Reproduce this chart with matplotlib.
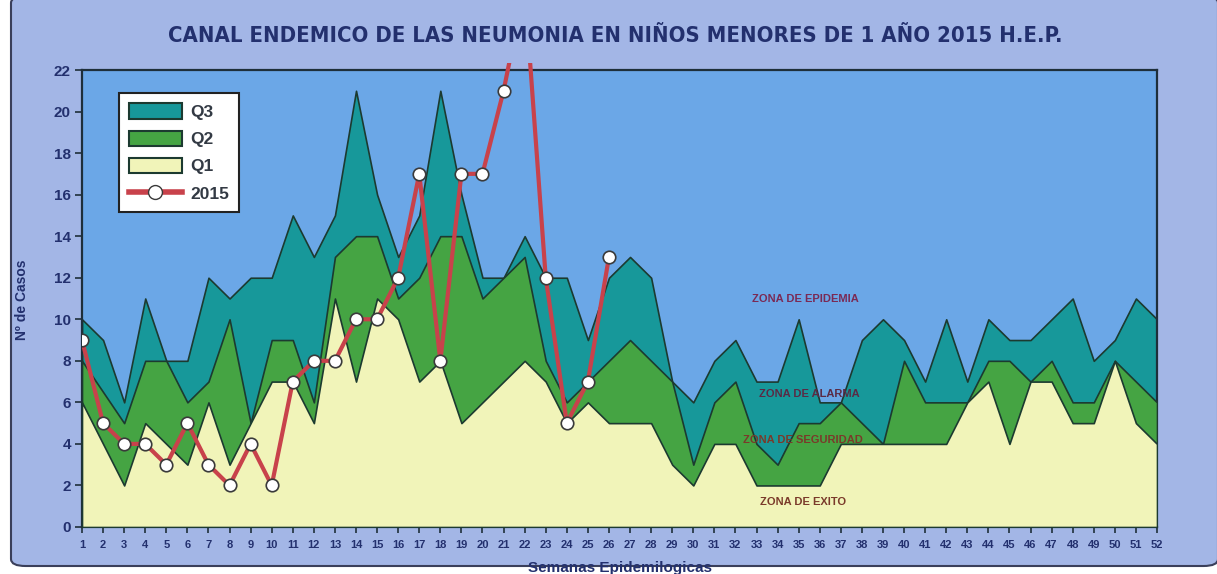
import matplotlib
matplotlib.use("Agg")
import matplotlib.pyplot as plt
from matplotlib.patches import FancyBboxPatch, Rectangle, Patch
from matplotlib.lines import Line2D
from matplotlib import font_manager
import numpy as np

weeks = list(range(1, 53))
q3 = [10, 9, 6, 11, 8, 8, 12, 11, 12, 12, 15, 13, 15, 21, 16, 13, 15, 21, 16, 12,
      12, 14, 12, 12, 9, 12, 13, 12, 7, 6, 8, 9, 7, 7, 10, 6, 6, 9, 10, 9,
      7, 10, 7, 10, 9, 9, 10, 11, 8, 9, 11, 10]
q2 = [8, 6.5, 5, 8, 8, 6, 7, 10, 5, 9, 9, 6, 13, 14, 14, 11, 12, 14, 14, 11,
      12, 13, 8, 6, 7, 8, 9, 8, 7, 3, 6, 7, 4, 3, 5, 5, 6, 5, 4, 8,
      6, 6, 6, 8, 8, 7, 8, 6, 6, 8, 7, 6]
q1 = [6, 4, 2, 5, 4, 3, 6, 3, 5, 7, 7, 5, 11, 7, 11, 10, 7, 8, 5, 6,
      7, 8, 7, 5, 6, 5, 5, 5, 3, 2, 4, 4, 2, 2, 2, 2, 4, 4, 4, 4,
      4, 4, 6, 7, 4, 7, 7, 5, 5, 8, 5, 4]
weeks_2015 = list(range(1, 27))
cases_2015 = [9, 5, 4, 4, 3, 5, 3, 2, 4, 2, 7, 8, 8, 10, 10, 12, 17, 8, 17, 17,
              21, 26, 12, 5, 7, 13]
y_ticks = list(range(0, 23, 2))

title = "CANAL ENDEMICO DE LAS NEUMONIA EN NIÑOS MENORES DE 1 AÑO 2015 H.E.P."
zones = ["ZONA DE EPIDEMIA", "ZONA DE ALARMA", "ZONA DE SEGURIDAD", "ZONA DE EXITO"]

names = {f.name for f in font_manager.fontManager.ttflist}
narrow = "Liberation Sans Narrow" if "Liberation Sans Narrow" in names else "DejaVu Sans"

W, H = 1217, 574
fig = plt.figure(figsize=(W / 100, H / 100), dpi=100)
fig.patch.set_facecolor("white")

navy = "#23306e"
panel = "#a3b6e6"
plotbg = "#6ba7e7"
teal = "#17989a"
green = "#45a443"
yellow = "#f1f4b9"
edge = "#1c3a30"
red = "#c8424b"

# outer panel
bg = FancyBboxPatch((11 / W, 8 / H), (W - 10) / W, (H - 4) / H,
                    boxstyle="round,pad=0,rounding_size=0.012",
                    transform=fig.transFigure, facecolor=panel,
                    edgecolor="#3a3f5a", linewidth=1.5, zorder=-5)
fig.patches.append(bg)

ax = fig.add_axes([82 / W, 1 - 527 / H, (1157 - 82) / W, (527 - 70) / H])
ax.set_zorder(2)
ax.set_facecolor(plotbg)
ax.set_xlim(1, 52)
ax.set_ylim(0, 22)

ax.fill_between(weeks, q3, 0, facecolor=teal, edgecolor=edge, linewidth=1.2, zorder=2)
ax.fill_between(weeks, q2, 0, facecolor=green, edgecolor=edge, linewidth=1.2, zorder=3)
ax.fill_between(weeks, q1, 0, facecolor=yellow, edgecolor=edge, linewidth=1.2, zorder=4)

line, = ax.plot(weeks_2015, cases_2015, color=red, linewidth=3.0, marker="o",
                markersize=9, markerfacecolor="white", markeredgecolor="#3a3a3a",
                markeredgewidth=1.2, zorder=6)
clip = Rectangle((0, -0.05), 1, 1.066, transform=ax.transAxes)
line.set_clip_path(clip)

zone_pos = [(35.3, 11.0), (35.5, 6.4), (35.2, 4.2), (35.2, 1.2)]
zone_col = ["#7a2a55", "#5a2a45", "#7a3a2a", "#7a3a2a"]
for z, (zx, zy), zc in zip(zones, zone_pos, zone_col):
    ax.text(zx, zy, z, ha="center", va="center", fontsize=8, fontweight="bold",
            color=zc, family=["Liberation Sans", "DejaVu Sans"], zorder=7)

for s in ax.spines.values():
    s.set_color("#1e2f3a")
    s.set_linewidth(1.6)

ax.set_yticks(y_ticks)
ax.set_xticks(weeks)
ax.tick_params(axis="y", labelsize=11, colors="#1e2f3a", length=5, width=1.2, pad=3)
ax.tick_params(axis="x", labelsize=8, colors="#1e2f3a", length=4, width=1.2, pad=5)
for lab in ax.get_yticklabels() + ax.get_xticklabels():
    lab.set_fontweight("bold")
    lab.set_color(navy)
    lab.set_family(["Liberation Sans", "DejaVu Sans"])

fig.text(615 / W, 1 - 36 / H, title, ha="center", va="center", fontsize=15.8,
         fontweight="bold", color=navy, fontstretch="condensed",
         family=[narrow, "DejaVu Sans"])
fig.text(22 / W, 1 - 300 / H, "Nº de Casos", ha="center", va="center", rotation=90,
         fontsize=10, fontweight="bold", color=navy,
         family=["Liberation Sans", "DejaVu Sans"])
fig.text(620 / W, 1 - 568 / H, "Semanas Epidemilogicas", ha="center", va="center",
         fontsize=11, fontweight="bold", color=navy,
         family=["Liberation Sans", "DejaVu Sans"])

handles = [Patch(facecolor=teal, edgecolor=edge, linewidth=1.5),
           Patch(facecolor=green, edgecolor=edge, linewidth=1.5),
           Patch(facecolor=yellow, edgecolor=edge, linewidth=1.5),
           Line2D([0], [0], color=red, linewidth=4, marker="o", markersize=10,
                  markerfacecolor="white", markeredgecolor="#3a3a3a")]
leg = ax.legend(handles, ["Q3", "Q2", "Q1", "2015"], loc="upper left",
                bbox_to_anchor=((119 - 82) / (1157 - 82), 1 - (93 - 70) / (527 - 70)),
                frameon=True, fancybox=False, edgecolor="#222222", facecolor="white",
                framealpha=1, prop={"weight": "bold", "size": 12.5,
                                    "family": ["Liberation Sans", "DejaVu Sans"]},
                handlelength=3.0, handleheight=1.0, labelspacing=0.6,
                borderpad=0.6, handletextpad=0.5, borderaxespad=0)
leg.get_frame().set_linewidth(1.5)
for t in leg.get_texts():
    t.set_color("#333a44")
leg.set_zorder(10)

fig.savefig("out.png", dpi=100, facecolor=fig.get_facecolor())
